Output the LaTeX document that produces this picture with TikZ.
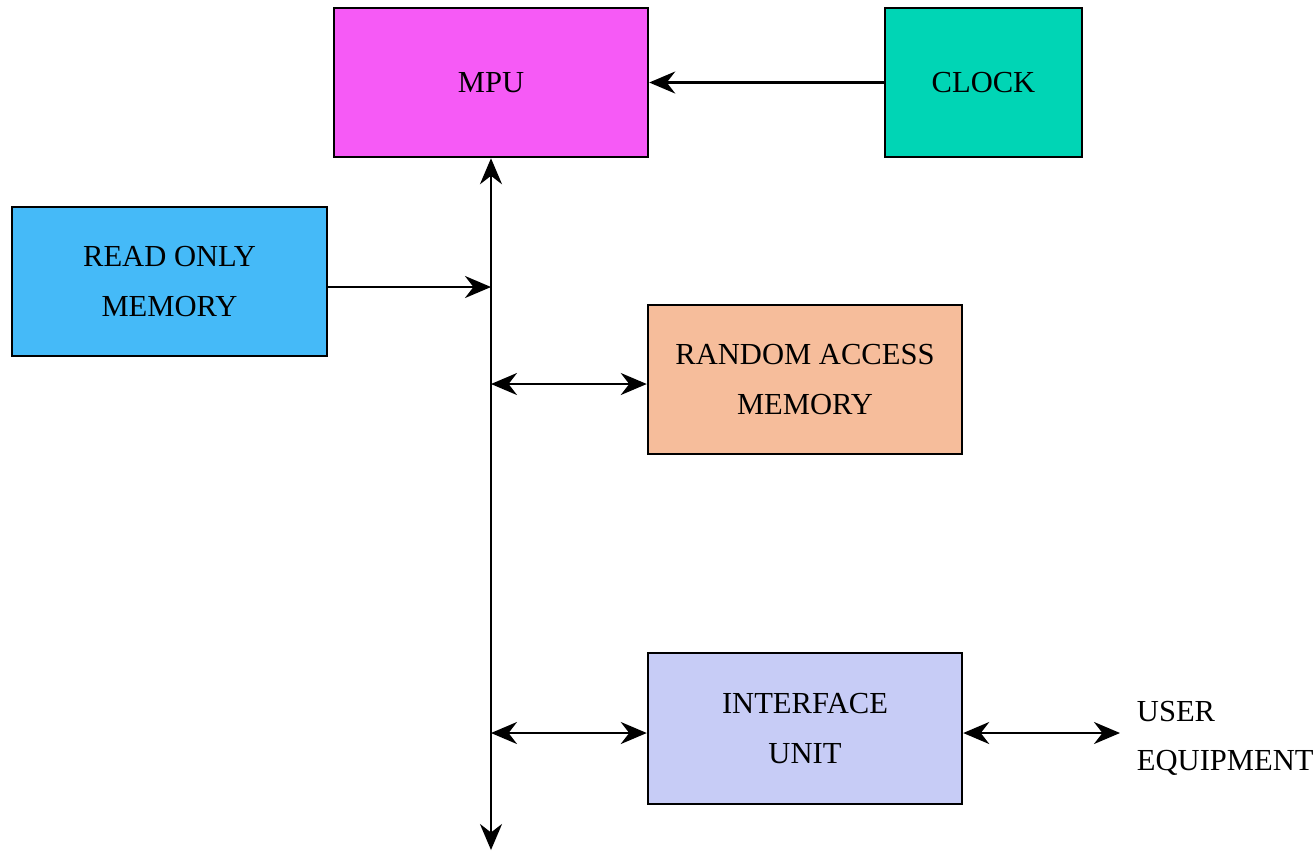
\documentclass[tikz,border=0pt]{standalone}
\usepackage{fontspec}
\setmainfont{Liberation Serif}
\usetikzlibrary{arrows.meta}
\definecolor{mpucol}{HTML}{F65AF6}
\definecolor{clockcol}{HTML}{00D5B5}
\definecolor{romcol}{HTML}{45BAF8}
\definecolor{ramcol}{HTML}{F6BD9B}
\definecolor{ifcol}{HTML}{C7CCF6}

\begin{document}
\begin{tikzpicture}[line width=0.7pt,
        box/.style = {draw, minimum height=1.49cm, align=center, font=\fontsize{8.7}{14}\selectfont},
        bus/.style = {-{Stealth[length=2.6mm,width=2.2mm]}},
        bibus/.style = {{Stealth[length=2.6mm,width=2.2mm]}-{Stealth[length=2.6mm,width=2.2mm]}}]
    \useasboundingbox (0,0) rectangle (13.15,-8.53);
        \node[box, fill=mpucol, minimum width=3.14cm] (mpu) at (4.91,-0.825) {MPU};
        \node[box, fill=clockcol, minimum width=1.97cm] (clock) at (9.835,-0.825) {CLOCK};
        \node[box, fill=romcol, minimum width=3.15cm] (rom) at (1.695,-2.815) {READ ONLY\\MEMORY};
        \node[box, fill=ramcol, minimum width=3.14cm] (ram) at (8.05,-3.795) {RANDOM ACCESS\\MEMORY};
        \node[box, fill=ifcol, minimum width=3.14cm, minimum height=1.51cm] (iface) at (8.05,-7.285) {INTERFACE\\UNIT};
        \node[align=left, anchor=west, font=\fontsize{8.7}{14}\selectfont] (user) at (11.24,-7.38) {USER\\EQUIPMENT};
        \coordinate (busend) at (4.91,-8.5);
        \coordinate (userend) at (11.2,-7.33);
    
        \draw[bus] (clock) -- (mpu);
        \draw[bibus] (mpu.south) -- (busend);
        \draw[bus] (rom.east |- 0,-2.87) -- (mpu.south |- 0,-2.87);
        \draw[bibus] (mpu.south |- 0,-3.84) -- (ram.west |- 0,-3.84);
        \draw[bibus] (mpu.south |- 0,-7.33) -- (iface.west |- 0,-7.33);
        \draw[bibus] (iface.east |- userend) -- (userend);
        
    \end{tikzpicture}
\end{document}
